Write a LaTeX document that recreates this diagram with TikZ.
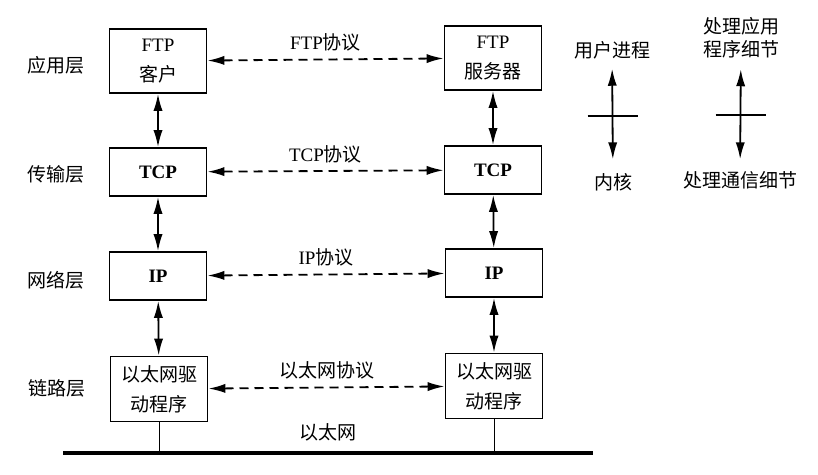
\documentclass[tikz,border=0pt]{standalone}
\usepackage{fontspec}
\setmainfont{Liberation Serif}
\newfontfamily\cjk{Noto Sans CJK SC}
\usetikzlibrary{arrows.meta,calc}
\newcommand\zh[1]{{\cjk#1}}

\begin{document}
\begin{tikzpicture}[x=0.5pt,y=-0.5pt,line width=0.9pt,
      every node/.style={inner sep=2pt,font=\fontsize{9.5}{15}\selectfont},
      >={Latex[length=8.5pt,width=4.6pt]},
      box/.style={draw,minimum width=48.5pt,align=center},
      proto/.style={<->,dash pattern=on 4.5pt off 3pt}]
      \useasboundingbox(0,0)rectangle(818,475);
      % layers
      \node(app)at(56,65){\zh{应用层}};
      \node(trans)at(56,174){\zh{传输层}};
      \node(net)at(56,280){\zh{网络层}};
      \node(link)at(57,388){\zh{链路层}};
      % client side
      \node[box,minimum height=32pt](ftpc)at(158,61){FTP\\\zh{客户}};
      \node[box,minimum height=24pt](tcpc)at(158,172){\textbf{TCP}};
      \node[box,minimum height=24pt](ipc)at(158,276){\textbf{IP}};
      \node[box,minimum height=32.5pt](drvc)at(159,389){\zh{以太网驱}\\\zh{动程序}};
      % server side
      \node[box,minimum height=32pt](ftps)at(493,58){FTP\\\zh{服务器}};
      \node[box,minimum height=24pt](tcps)at(493,170){\textbf{TCP}};
      \node[box,minimum height=24pt](ips)at(494,273){\textbf{IP}};
      \node[box,minimum height=32.5pt](drvs)at(494,386){\zh{以太网驱}\\\zh{动程序}};
      \draw[<->](ftpc)--(tcpc);\draw[<->](tcpc)--(ipc);\draw[<->](ipc)--(drvc);
      \draw[<->](ftps)--(tcps);\draw[<->](tcps)--(ips);\draw[<->](ips)--(drvs);
      \draw[proto](ftpc)--node[above=1.5pt](ftpp){FTP\zh{协议}}(ftps);
      \draw[proto](tcpc)--node[above=1.5pt](tcpp){TCP\zh{协议}}(tcps);
      \draw[proto](ipc)--node[above=1.5pt](ipp){IP\zh{协议}}(ips);
      \draw[proto](drvc)--node[above=1.5pt](ethp){\zh{以太网协议}}(drvs);
      % cable
      \coordinate(busw)at(63,453);\coordinate(buse)at(593,453);
      \draw[line width=2pt](busw)--node[above=3pt,pos=0.5](eth){\zh{以太网}}(buse);
      \draw[line width=0.5pt](drvc)--(drvc|-busw)(drvs)--(drvs|-busw);
      % legend
      \node(user)at(612,50){\zh{用户进程}};
      \node(kern)at(613,182){\zh{内核}};
      \draw[<->,shorten <=2.5pt,shorten >=4.5pt](user)--(kern);
      \draw($(user)!0.5!(kern)$)++(-25,0)--++(50,0);
      \node[align=center,font=\fontsize{9.5}{11.5}\selectfont](appd)at(741,38){\zh{处理应用}\\\zh{程序细节}};
      \node(comm)at(740,180){\zh{处理通信细节}};
      \draw[<->,shorten <=3pt,shorten >=3.5pt](appd)--(comm);
      \draw($(appd.south)!0.5!(comm.north)$)++(-25,0)--++(50,0);
   \end{tikzpicture}
\end{document}
